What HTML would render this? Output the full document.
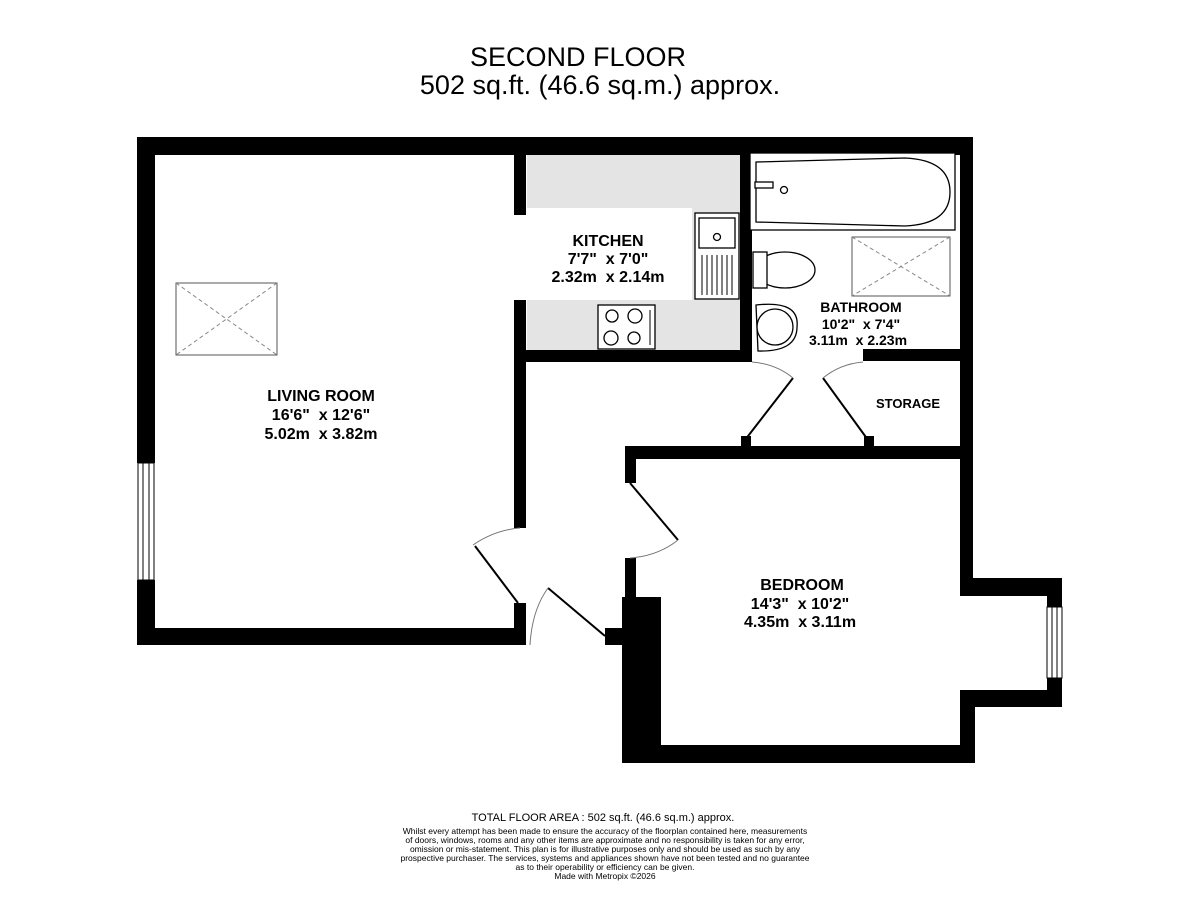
<!DOCTYPE html>
<html><head><meta charset="utf-8"><style>
html,body{margin:0;padding:0;background:#fff}
svg{display:block}
text{font-family:"Liberation Sans",sans-serif;fill:#000;white-space:pre}
.b{font-weight:bold;font-size:16px}
</style></head><body>
<svg width="1200" height="901" viewBox="0 0 1200 901" xmlns="http://www.w3.org/2000/svg" xml:space="preserve">
<text x="578" y="66" font-size="27" text-anchor="middle">SECOND FLOOR</text>
<text x="600" y="94" font-size="27" text-anchor="middle">502 sq.ft. (46.6 sq.m.) approx.</text>

<rect x="527" y="155" width="213" height="195" fill="#e4e4e4"/>
<rect x="527" y="208" width="165" height="92" fill="#fff"/>

<g fill="#000">
<rect x="137" y="137" width="835" height="18"/>
<rect x="137" y="137" width="18" height="326"/>
<rect x="137" y="580" width="18" height="65"/>
<rect x="137" y="628" width="389" height="17"/>
<rect x="514" y="603" width="12" height="42"/>
<rect x="514" y="155" width="12" height="60"/>
<rect x="514" y="300" width="12" height="228"/>
<rect x="514" y="350" width="238" height="12"/>
<rect x="740" y="137" width="12" height="225"/>
<rect x="863" y="349" width="109" height="12"/>
<rect x="960" y="137" width="13" height="458"/>
<rect x="625" y="446" width="348" height="13"/>
<rect x="741" y="436" width="10" height="12"/>
<rect x="864" y="436" width="10" height="12"/>
<rect x="625" y="446" width="11" height="37"/>
<rect x="625" y="558" width="11" height="40"/>
<rect x="622" y="597" width="39" height="166"/>
<rect x="605" y="628" width="20" height="17"/>
<rect x="622" y="745" width="353" height="18"/>
<rect x="960" y="690" width="15" height="73"/>
<rect x="960" y="578" width="102" height="18"/>
<rect x="960" y="690" width="102" height="17"/>
<rect x="1047" y="578" width="15" height="29"/>
<rect x="1047" y="678" width="15" height="29"/>
</g>

<g stroke="#000" stroke-width="1" fill="#fff">
<rect x="138" y="463" width="16" height="117"/>
<line x1="143" y1="463" x2="143" y2="580"/><line x1="149" y1="463" x2="149" y2="580"/>
<rect x="1047" y="607" width="15" height="71"/>
<line x1="1052" y1="607" x2="1052" y2="678"/><line x1="1057" y1="607" x2="1057" y2="678"/>
</g>

<g stroke="#000" stroke-width="2" fill="none">
<line x1="475" y1="546" x2="518" y2="603"/>
<line x1="548" y1="588" x2="605" y2="636"/>
<line x1="630" y1="483" x2="678" y2="540"/>
<line x1="745" y1="440" x2="793" y2="378"/>
<line x1="868" y1="440" x2="823" y2="378"/>
</g>
<g stroke="#777" stroke-width="1" fill="none">
<path d="M473 545 Q495 530 520 528"/>
<path d="M548 588 Q532 610 530 645"/>
<path d="M678 540 Q658 556 630 558"/>
<path d="M793 378 Q776 364 752 362"/>
<path d="M823 378 Q840 364 863 362"/>
</g>

<g stroke="#888" stroke-width="1" fill="none">
<rect x="176" y="283" width="101" height="72" stroke="#555"/>
<line x1="176" y1="283" x2="277" y2="355" stroke-dasharray="4,3"/>
<line x1="277" y1="283" x2="176" y2="355" stroke-dasharray="4,3"/>
<rect x="852" y="237" width="98" height="59" stroke="#555"/>
<line x1="852" y1="237" x2="950" y2="296" stroke-dasharray="4,3"/>
<line x1="950" y1="237" x2="852" y2="296" stroke-dasharray="4,3"/>
</g>

<g stroke="#000" stroke-width="1.3" fill="#fff">
<rect x="750" y="153" width="205" height="77"/>
<path d="M756 162 L905 158 Q950 160 950 192 Q950 224 905 226 L756 222 Z"/>
<circle cx="784" cy="190" r="3.5"/>
<rect x="755" y="182" width="18" height="6"/>
<rect x="695" y="213" width="44" height="86"/>
<rect x="699" y="218" width="36" height="30"/>
<circle cx="717" cy="237" r="3.5"/>
<rect x="598" y="305" width="57" height="44"/>
<circle cx="612" cy="316" r="6"/><circle cx="635" cy="316" r="7"/>
<circle cx="611" cy="338" r="7"/><circle cx="634" cy="338" r="6"/>
<ellipse cx="785" cy="270" rx="30" ry="18"/>
<rect x="753" y="252" width="14" height="36"/>
<path d="M756 305 Q800 300 797 327 Q797 352 758 351 Z"/>
<ellipse cx="775" cy="327" rx="18" ry="18"/>
</g>
<g stroke="#000" stroke-width="1">
<line x1="702" y1="255" x2="702" y2="295"/><line x1="707" y1="255" x2="707" y2="295"/>
<line x1="712" y1="255" x2="712" y2="295"/><line x1="717" y1="255" x2="717" y2="295"/>
<line x1="722" y1="255" x2="722" y2="295"/><line x1="727" y1="255" x2="727" y2="295"/>
<line x1="732" y1="255" x2="732" y2="295"/>
<line x1="650" y1="310" x2="650" y2="345"/>
</g>

<g text-anchor="middle">
<text x="321" y="401" class="b">LIVING ROOM</text>
<text x="321" y="420" class="b">16'6"  x 12'6"</text>
<text x="321" y="439" class="b">5.02m  x 3.82m</text>
<text x="608" y="246" class="b">KITCHEN</text>
<text x="608" y="264" class="b">7'7"  x 7'0"</text>
<text x="608" y="282" class="b">2.32m  x 2.14m</text>
<text x="861" y="312" font-weight="bold" font-size="14">BATHROOM</text>
<text x="861" y="329" font-weight="bold" font-size="14">10'2"  x 7'4"</text>
<text x="858" y="345" font-weight="bold" font-size="14">3.11m  x 2.23m</text>
<text x="908" y="408" font-weight="bold" font-size="13">STORAGE</text>
<text x="802" y="590" class="b">BEDROOM</text>
<text x="800" y="609" class="b">14'3"  x 10'2"</text>
<text x="800" y="627" class="b">4.35m  x 3.11m</text>
</g>

<g text-anchor="middle">
<text x="603" y="821" font-size="11">TOTAL FLOOR AREA : 502 sq.ft. (46.6 sq.m.) approx.</text>
<g font-size="8.5">
<text x="605" y="834">Whilst every attempt has been made to ensure the accuracy of the floorplan contained here, measurements</text>
<text x="605" y="843">of doors, windows, rooms and any other items are approximate and no responsibility is taken for any error,</text>
<text x="605" y="852">omission or mis-statement. This plan is for illustrative purposes only and should be used as such by any</text>
<text x="605" y="861">prospective purchaser. The services, systems and appliances shown have not been tested and no guarantee</text>
<text x="605" y="870">as to their operability or efficiency can be given.</text>
<text x="605" y="879">Made with Metropix ©2026</text>
</g>
</g>
</svg>
</body></html>
